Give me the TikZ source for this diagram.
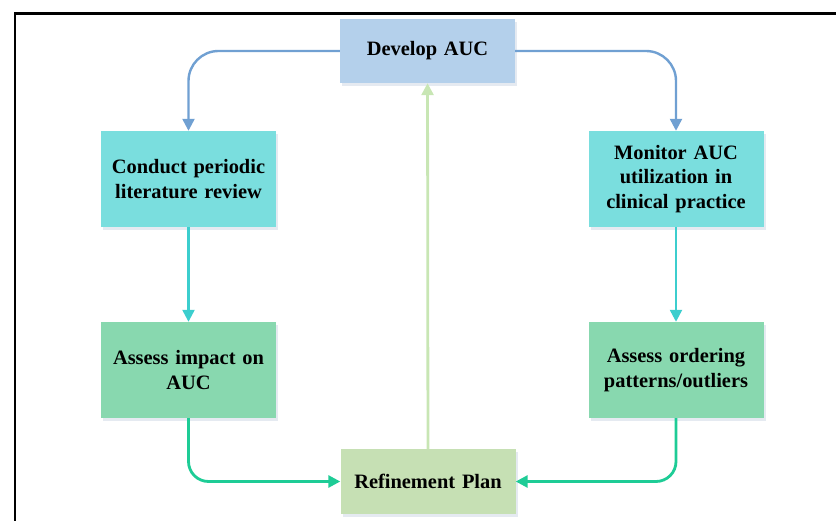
\documentclass[tikz,border=0pt]{standalone}
\usepackage{fontspec}
\setmainfont{Liberation Serif}
\usetikzlibrary{arrows.meta,shadows}

\definecolor{devfill}{RGB}{180,208,235}
\definecolor{devline}{RGB}{112,160,210}
\definecolor{cyanfill}{RGB}{122,222,222}
\definecolor{cyanline}{RGB}{60,206,206}
\definecolor{greenfill}{RGB}{136,216,175}
\definecolor{greenline}{RGB}{30,204,150}
\definecolor{planfill}{RGB}{198,224,180}
\definecolor{planline}{RGB}{200,230,180}
\definecolor{shadowgray}{RGB}{180,195,215}

\begin{document}
\begin{tikzpicture}[x=1bp,y=-1bp,
    box/.style={minimum width=175bp, text width=168bp, align=center,
        inner sep=0pt, font=\fontsize{20.5}{25}\selectfont\bfseries,
        drop shadow={shadow xshift=2bp, shadow yshift=-3bp, fill=shadowgray, opacity=.35}},
    flow/.style={line width=2.4bp, -{Triangle[width=12bp,length=12bp]}}]
        % Canvas and frame
        \useasboundingbox (0,0) rectangle (836,521);
        \draw[line width=2.5bp, black] (15,521) -- (15,13.5) -- (836,13.5);

        % Boxes
        \node[box, fill=devfill, minimum height=64bp] (develop) at (427.5,51) {Develop AUC};
        \node[box, fill=cyanfill, minimum height=96bp] (review) at (188.5,179) {Conduct periodic\\literature review};
        \node[box, fill=cyanfill, minimum height=96bp] (monitor) at (676,179) {Monitor AUC\\utilization in\\clinical practice};
        \node[box, fill=greenfill, minimum height=96bp] (impact) at (188.5,370) {Assess impact on\\AUC};
        \node[box, fill=greenfill, minimum height=96bp] (ordering) at (676,370) {Assess ordering\\patterns/outliers};
        \node[box, fill=planfill, minimum height=65bp] (plan) at (428,481.5) {Refinement Plan};

        % Arrows from the top box
        \draw[flow, devline, rounded corners=30bp] (develop.west) -| (review.north);
        \draw[flow, devline, rounded corners=30bp] (develop.east) -| (monitor.north);

        % Down the two sides
        \draw[flow, cyanline] (review) -- (impact);
        \draw[flow, cyanline] (monitor) -- (ordering);

        % Into the refinement plan
        \draw[flow, greenline, line width=2.8bp, rounded corners=20bp] (impact.south) |- (plan.west);
        \draw[flow, greenline, line width=2.8bp, rounded corners=20bp] (ordering.south) |- (plan.east);

        % Back up to the top
        \draw[flow, planline, line width=2.8bp] (plan) -- (develop);
\end{tikzpicture}
\end{document}
